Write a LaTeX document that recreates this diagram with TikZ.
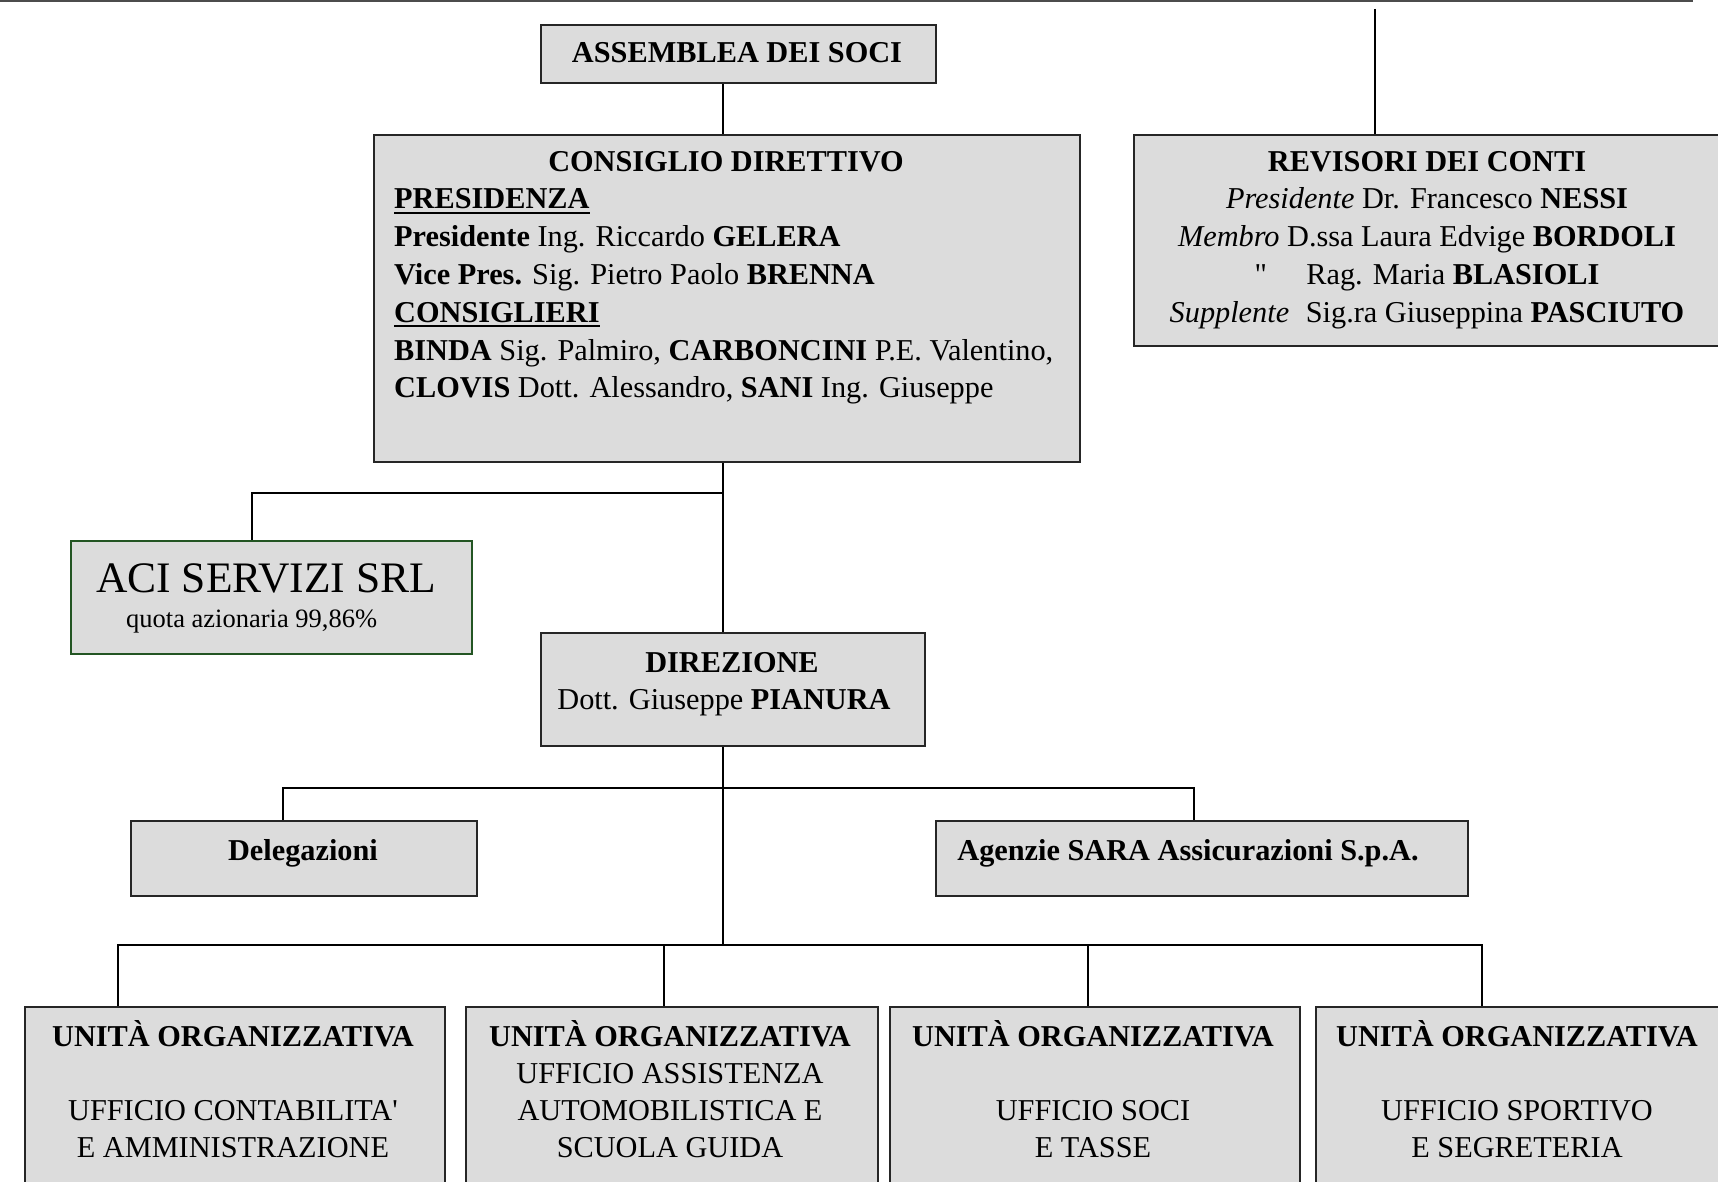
\documentclass[tikz,border=0pt]{standalone}
\usepackage{fontspec}
\setmainfont{Liberation Serif}[Ligatures=TeXOff]
\usetikzlibrary{calc}
\definecolor{boxfill}{RGB}{220,220,220}
\definecolor{acigreen}{RGB}{35,85,35}
\newcommand\ulbox[1]{\vtop{\hbox{#1}\kern2.5pt\hrule height 2pt}}
\begin{document}
\begin{tikzpicture}[x=1pt,y=-1pt,
  box/.style={draw=black!85, line width=2.2pt, fill=boxfill, inner sep=0pt, anchor=north west},
  conn/.style={draw=black, line width=2pt},
  txt/.style={inner sep=0pt, font=\fontsize{30.3}{36}\selectfont},
  lt/.style={txt, anchor=base west},
  ct/.style={txt, anchor=base}]
\useasboundingbox (0,0) rectangle (1718,1182);
\clip (0,0) rectangle (1718,1182);
\fill[white] (0,0) rectangle (1718,1182);

% boxes
\node[box, minimum width=395, minimum height=58] (assemblea) at (540,24) {};
\node[box, minimum width=706, minimum height=327] (consiglio) at (373,134) {};
\node[box, minimum width=594, minimum height=211] (revisori) at (1133,134) {};
\node[box, draw=acigreen, minimum width=401, minimum height=113] (aci) at (70,540) {};
\node[box, minimum width=384, minimum height=113] (direzione) at (540,632) {};
\node[box, minimum width=346, minimum height=75] (delegazioni) at (130,820) {};
\node[box, minimum width=532, minimum height=75] (agenzie) at (935,820) {};
\node[box, minimum width=420, minimum height=220] (u1) at (24,1006) {};
\node[box, minimum width=412, minimum height=220] (u2) at (465,1006) {};
\node[box, minimum width=410, minimum height=220] (u3) at (889,1006) {};
\node[box, minimum width=412, minimum height=220] (u4) at (1315,1006) {};

% connectors
\coordinate (tl) at (0,1);
\coordinate (tr) at (1693,1);
\draw[conn, draw=black!70, line width=2.5pt] (tl) -- (tr);
\coordinate (rv) at (1375,9);
\draw[conn] (rv) -- (rv |- revisori.north);
\coordinate (t1) at (723,0);
\draw[conn] (assemblea.south -| t1) -- (consiglio.north -| t1);
\draw[conn] (consiglio.south -| t1) -- (direzione.north -| t1);
\coordinate (ja) at (252,493);
\draw[conn] (ja -| t1) -- (ja) -- (aci.north -| ja);
\coordinate (jb) at (723,945);
\draw[conn] (direzione.south -| t1) -- (jb);
\coordinate (jd) at (283,788);
\coordinate (je) at (1194,788);
\draw[conn] (delegazioni.north -| jd) -- (jd) -- (je) -- (agenzie.north -| je);
\coordinate (jl) at (118,945);
\coordinate (j2) at (664,945);
\coordinate (j3) at (1088,945);
\coordinate (jr) at (1482,945);
\draw[conn] (u1.north -| jl) -- (jl) -- (jr) -- (u4.north -| jr);
\draw[conn] (j2) -- (u2.north -| j2);
\draw[conn] (j3) -- (u3.north -| j3);

% texts
\node[ct] (tAss) at (737,63) {\textbf{ASSEMBLEA DEI SOCI}};

\node[ct] (tCons) at (726,172) {\textbf{CONSIGLIO DIRETTIVO}};
\node[lt] (tPres) at (394,209) {\ulbox{\textbf{PRESIDENZA}}};
\node[lt] (tP1) at (394,247) {\textbf{Presidente} Ing. Riccardo \textbf{GELERA}};
\node[lt] (tP2) at (394,284) {\textbf{Vice Pres.} Sig. Pietro Paolo \textbf{BRENNA}};
\node[lt] (tConsi) at (394,322) {\ulbox{\textbf{CONSIGLIERI}}};
\node[lt] (tC1) at (394,360) {\textbf{BINDA} Sig. Palmiro, \textbf{CARBONCINI} P.E. Valentino,};
\node[lt] (tC2) at (394,397) {\textbf{CLOVIS} Dott. Alessandro, \textbf{SANI} Ing. Giuseppe};

\node[ct] (tRev) at (1427,172) {\textbf{REVISORI DEI CONTI}};
\node[ct] (tR1) at (1427,209) {\textit{Presidente} Dr. Francesco \textbf{NESSI}};
\node[ct] (tR2) at (1427,247) {\textit{Membro} D.ssa Laura Edvige \textbf{BORDOLI}};
\node[ct] (tR3) at (1427,284) {"\hspace{1.3em}Rag. Maria \textbf{BLASIOLI}};
\node[ct] (tR4) at (1427,322) {\textit{Supplente}\hspace{0.3em} Sig.ra Giuseppina \textbf{PASCIUTO}};

\node[inner sep=0pt, anchor=base, font=\fontsize{43.5}{48}\selectfont] (tAci) at (266,592) {ACI SERVIZI SRL};
\node[inner sep=0pt, anchor=base west, font=\fontsize{26.5}{30}\selectfont] (tQuota) at (126,627) {quota azionaria 99,86\%};

\node[ct] (tDir) at (732,672) {\textbf{DIREZIONE}};
\node[ct] (tDir2) at (724,709) {Dott. Giuseppe \textbf{PIANURA}};

\node[ct] (tDel) at (303,860) {\textbf{Delegazioni}};
\node[ct] (tAg) at (1188,860) {\textbf{Agenzie SARA Assicurazioni S.p.A.}};

\node[ct] (tU1) at (233,1046) {\textbf{UNITÀ ORGANIZZATIVA}};
\node[ct] (tU1b) at (233,1120) {UFFICIO CONTABILITA'};
\node[ct] (tU1c) at (233,1157) {E AMMINISTRAZIONE};

\node[ct] (tU2) at (670,1046) {\textbf{UNITÀ ORGANIZZATIVA}};
\node[ct] (tU2a) at (670,1083) {UFFICIO ASSISTENZA};
\node[ct] (tU2b) at (670,1120) {AUTOMOBILISTICA E};
\node[ct] (tU2c) at (670,1157) {SCUOLA GUIDA};

\node[ct] (tU3) at (1093,1046) {\textbf{UNITÀ ORGANIZZATIVA}};
\node[ct] (tU3b) at (1093,1120) {UFFICIO SOCI};
\node[ct] (tU3c) at (1093,1157) {E TASSE};

\node[ct] (tU4) at (1517,1046) {\textbf{UNITÀ ORGANIZZATIVA}};
\node[ct] (tU4b) at (1517,1120) {UFFICIO SPORTIVO};
\node[ct] (tU4c) at (1517,1157) {E SEGRETERIA};
\end{tikzpicture}
\end{document}
